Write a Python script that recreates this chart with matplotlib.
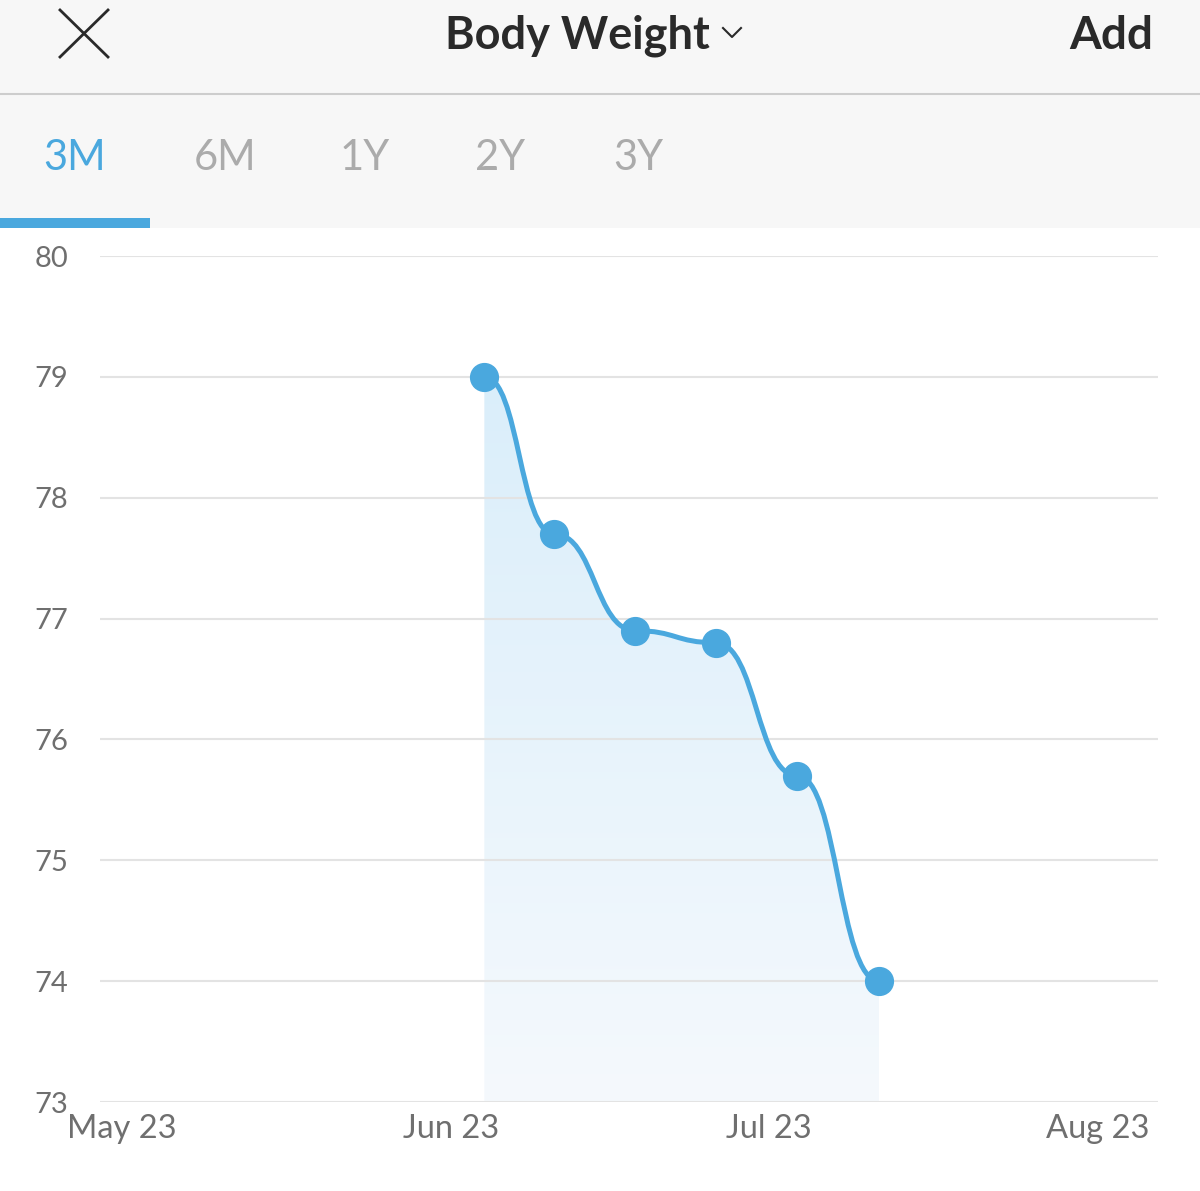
import matplotlib.pyplot as plt
import matplotlib.dates as mdates
from matplotlib.path import Path
from matplotlib.patches import PathPatch, Rectangle
from matplotlib.lines import Line2D
from datetime import datetime
import numpy as np

# data
dates = [datetime(2023, 6, 4, 4), datetime(2023, 6, 10, 18), datetime(2023, 6, 18, 10),
         datetime(2023, 6, 26, 0), datetime(2023, 7, 3, 16), datetime(2023, 7, 11, 10)]
weights = [79.0, 77.7, 76.9, 76.8, 75.7, 74.0]
y_ticks = [73, 74, 75, 76, 77, 78, 79, 80]
month_ticks = [datetime(2023, 5, 1), datetime(2023, 6, 1),
               datetime(2023, 7, 1), datetime(2023, 8, 1)]
tabs = ['3M', '6M', '1Y', '2Y', '3Y']

blue = '#4aa8de'
W, H = 1200, 1191
plt.rcParams['font.family'] = ['Lato', 'DejaVu Sans']


def fx(px):
    return px / W


def fy(py):
    return 1 - py / H


fig = plt.figure(figsize=(W / 100, H / 100), dpi=100, facecolor='white')

# header background, separator and tab underline
fig.add_artist(Rectangle((0, fy(228)), 1, fy(0) - fy(228), transform=fig.transFigure,
                         facecolor='#f7f7f7', edgecolor='none', zorder=0))
fig.add_artist(Line2D([0, 1], [fy(94), fy(94)], transform=fig.transFigure,
                      color='#cdcdcd', lw=1.5))
fig.add_artist(Rectangle((0, fy(228)), fx(150), fy(218) - fy(228), transform=fig.transFigure,
                         facecolor=blue, edgecolor='none'))

# close icon
fig.add_artist(Line2D([fx(60), fx(108)], [fy(10), fy(57)], transform=fig.transFigure,
                      color='#2a2a2a', lw=2))
fig.add_artist(Line2D([fx(60), fx(108)], [fy(57), fy(10)], transform=fig.transFigure,
                      color='#2a2a2a', lw=2))

fig.text(fx(577), fy(36), 'Body Weight', ha='center', va='center',
         fontsize=32.5, fontweight='bold', color='#2a2a2a')
# dropdown chevron
fig.add_artist(Line2D([fx(723), fx(732), fx(741)], [fy(28), fy(37), fy(28)],
                      transform=fig.transFigure, color='#2a2a2a', lw=1.5))
fig.text(fx(1153), fy(36), 'Add', ha='right', va='center',
         fontsize=33, fontweight='bold', color='#2a2a2a')

tab_x = [75, 225, 365, 500, 638]
for label, px in zip(tabs, tab_x):
    fig.text(fx(px), fy(158), label, ha='center', va='center', fontsize=30,
             color=blue if label == '3M' else '#ababab')

# chart
ax = fig.add_axes([fx(100), fy(1102), fx(1158) - fx(100), fy(256) - fy(1102)])
ax.set_facecolor('none')

x = mdates.date2num(dates)
y = np.array(weights)

# smooth horizontal bezier through the points
verts = [(x[0], y[0])]
codes = [Path.MOVETO]
for i in range(1, len(x)):
    dx = x[i] - x[i - 1]
    verts += [(x[i - 1] + dx * 0.5, y[i - 1]), (x[i] - dx * 0.5, y[i]), (x[i], y[i])]
    codes += [Path.CURVE4] * 3
curve = Path(verts, codes)

fill_path = Path(verts + [(x[-1], 73), (x[0], 73), (x[0], y[0])],
                 codes + [Path.LINETO, Path.LINETO, Path.CLOSEPOLY])
fill_patch = PathPatch(fill_path, facecolor='none', edgecolor='none')
ax.add_patch(fill_patch)

top = np.array([0xda, 0xee, 0xfa]) / 255
bottom = np.array([0xf5, 0xf9, 0xfd]) / 255
t = np.linspace(0, 1, 256)[:, None, None]
grad = top * (1 - t) + bottom * t
img = ax.imshow(grad, extent=[x[0], x[-1], 73, max(weights)], aspect='auto',
                origin='upper', zorder=1)
img.set_clip_path(fill_patch)

for v in y_ticks:
    ax.axhline(v, color='#e3e3e3', lw=1.5, zorder=2)

ax.add_patch(PathPatch(curve, facecolor='none', edgecolor=blue, lw=3.6, zorder=3))
ax.plot(dates, weights, 'o', color=blue, markersize=20, zorder=4)

ax.set_xlim(mdates.date2num(datetime(2023, 5, 1)) - 2.08,
            mdates.date2num(datetime(2023, 5, 1)) + 97.7)
ax.set_ylim(73, 80)

ax.set_yticks(y_ticks)
ax.set_xticks(month_ticks)
ax.xaxis.set_major_formatter(mdates.DateFormatter('%b %y'))
ax.tick_params(axis='y', length=0, pad=47, labelsize=21, labelcolor='#6f6f6f')
ax.tick_params(axis='x', length=0, pad=9, labelsize=23.5, labelcolor='#6f6f6f')
for lab in ax.get_yticklabels():
    lab.set_horizontalalignment('left')
for s in ax.spines.values():
    s.set_visible(False)

fig.savefig('out.png', dpi=100, facecolor='white')
